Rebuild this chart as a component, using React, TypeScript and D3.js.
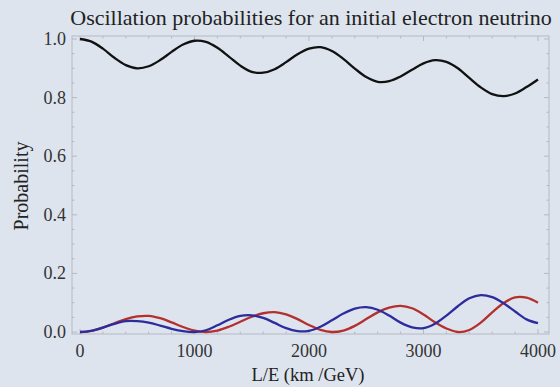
import { useRef, useEffect } from "react";
import * as d3 from "d3";

// L/E sampled every 100 km/GeV
const lengths = [
  0, 100, 200, 300, 400, 500, 600, 700, 800, 900, 1000, 1100, 1200, 1300, 1400,
  1500, 1600, 1700, 1800, 1900, 2000, 2100, 2200, 2300, 2400, 2500, 2600, 2700,
  2800, 2900, 3000, 3100, 3200, 3300, 3400, 3500, 3600, 3700, 3800, 3900, 4000,
];

// electron -> electron (survival)
const pElectron = [
  1.0, 0.991, 0.967, 0.936, 0.911, 0.9, 0.907, 0.928, 0.956, 0.981, 0.994,
  0.99, 0.97, 0.94, 0.909, 0.888, 0.885, 0.897, 0.921, 0.948, 0.967, 0.972,
  0.959, 0.932, 0.899, 0.87, 0.854, 0.856, 0.872, 0.895, 0.917, 0.928, 0.922,
  0.9, 0.867, 0.835, 0.812, 0.805, 0.814, 0.836, 0.862,
];

// electron -> muon
const pMuon = [
  0, 0.004, 0.015, 0.028, 0.037, 0.037, 0.032, 0.022, 0.011, 0.003, 0.0,
  0.006, 0.023, 0.042, 0.055, 0.057, 0.048, 0.031, 0.013, 0.003, 0.004, 0.018,
  0.04, 0.063, 0.08, 0.085, 0.076, 0.056, 0.032, 0.016, 0.013, 0.028, 0.056,
  0.088, 0.115, 0.126, 0.119, 0.098, 0.07, 0.043, 0.03,
];

// electron -> tau
const pTau = [
  0, 0.004, 0.015, 0.03, 0.044, 0.053, 0.055, 0.047, 0.033, 0.017, 0.005, 0.0,
  0.005, 0.018, 0.035, 0.052, 0.064, 0.068, 0.06, 0.044, 0.024, 0.007, 0.0,
  0.005, 0.021, 0.044, 0.067, 0.083, 0.089, 0.081, 0.06, 0.033, 0.012, 0.0,
  0.007, 0.032, 0.067, 0.099, 0.118, 0.117, 0.1,
];

const xTicks = [0, 1000, 2000, 3000, 4000];
const yTicks = [0, 0.2, 0.4, 0.6, 0.8, 1.0];

const WIDTH = 560;
const HEIGHT = 387;
const FONT = "'Liberation Serif', 'DejaVu Serif', serif";

export default function App() {
  const svgRef = useRef<SVGSVGElement>(null);

  useEffect(() => {
    if (!svgRef.current) return;
    const svg = d3.select(svgRef.current);
    svg.selectAll("*").remove();

    // frame box
    const frame = { left: 72, right: 549, top: 36, bottom: 334 };

    const x = d3.scaleLinear().domain([0, 4000]).range([80, 538]);
    const y = d3.scaleLinear().domain([0, 1]).range([332, 39]);

    svg
      .append("rect")
      .attr("width", WIDTH)
      .attr("height", HEIGHT)
      .attr("fill", "#dde4ee");

    // Frame
    svg
      .append("rect")
      .attr("x", frame.left)
      .attr("y", frame.top)
      .attr("width", frame.right - frame.left)
      .attr("height", frame.bottom - frame.top)
      .attr("fill", "none")
      .attr("stroke", "#b4b9c2")
      .attr("stroke-width", 1);

    // Frame ticks (major + minor), inward on all sides
    const tickColor = "#b4b9c2";
    const xMinor = d3.range(0, 4001, 200);
    const yMinor = d3.range(0, 1.0001, 0.05);
    const tg = svg.append("g").attr("stroke", tickColor).attr("stroke-width", 1);
    xMinor.forEach((v) => {
      const len = v % 1000 === 0 ? 5 : 2.5;
      tg.append("line").attr("x1", x(v)).attr("x2", x(v)).attr("y1", frame.bottom).attr("y2", frame.bottom - len);
      tg.append("line").attr("x1", x(v)).attr("x2", x(v)).attr("y1", frame.top).attr("y2", frame.top + len);
    });
    yMinor.forEach((v, i) => {
      const len = i % 4 === 0 ? 5 : 2.5;
      tg.append("line").attr("y1", y(v)).attr("y2", y(v)).attr("x1", frame.left).attr("x2", frame.left + len);
      tg.append("line").attr("y1", y(v)).attr("y2", y(v)).attr("x1", frame.right).attr("x2", frame.right - len);
    });

    // Tick labels
    svg
      .append("g")
      .selectAll("text")
      .data(xTicks)
      .join("text")
      .attr("x", (d) => x(d))
      .attr("y", 357)
      .attr("text-anchor", "middle")
      .attr("font-family", FONT)
      .attr("font-size", "18px")
      .attr("fill", "#333")
      .text((d) => String(d));

    svg
      .append("g")
      .selectAll("text")
      .data(yTicks)
      .join("text")
      .attr("x", 66)
      .attr("y", (d) => y(d) + 6)
      .attr("text-anchor", "end")
      .attr("font-family", FONT)
      .attr("font-size", "18px")
      .attr("fill", "#333")
      .text((d) => d.toFixed(1));

    // Title & axis labels
    svg
      .append("text")
      .attr("x", 311)
      .attr("y", 25)
      .attr("text-anchor", "middle")
      .attr("font-family", FONT)
      .attr("font-size", "22px")
      .attr("fill", "#222")
      .text("Oscillation probabilities for an initial electron neutrino");

    svg
      .append("text")
      .attr("x", 308)
      .attr("y", 381)
      .attr("text-anchor", "middle")
      .attr("font-family", FONT)
      .attr("font-size", "18.5px")
      .attr("fill", "#222")
      .text("L/E (km /GeV)");

    svg
      .append("text")
      .attr("transform", "rotate(-90)")
      .attr("x", -186)
      .attr("y", 28)
      .attr("text-anchor", "middle")
      .attr("font-family", FONT)
      .attr("font-size", "20px")
      .attr("fill", "#222")
      .text("Probability");

    // Curves
    const series = [
      { values: pTau, color: "#b3302f" },
      { values: pMuon, color: "#2c2c9c" },
      { values: pElectron, color: "#111111" },
    ];
    const line = d3
      .line<number>()
      .x((_, i) => x(lengths[i]))
      .y((d) => y(d))
      .curve(d3.curveCatmullRom.alpha(0.5));

    series.forEach((s) => {
      svg
        .append("path")
        .datum(s.values)
        .attr("fill", "none")
        .attr("stroke", s.color)
        .attr("stroke-width", 2.3)
        .attr("stroke-linejoin", "round")
        .attr("d", line);
    });
  }, []);

  return (
    <svg
      ref={svgRef}
      width={WIDTH}
      height={HEIGHT}
      style={{ position: "absolute", left: 0, top: 0, display: "block" }}
    />
  );
}
